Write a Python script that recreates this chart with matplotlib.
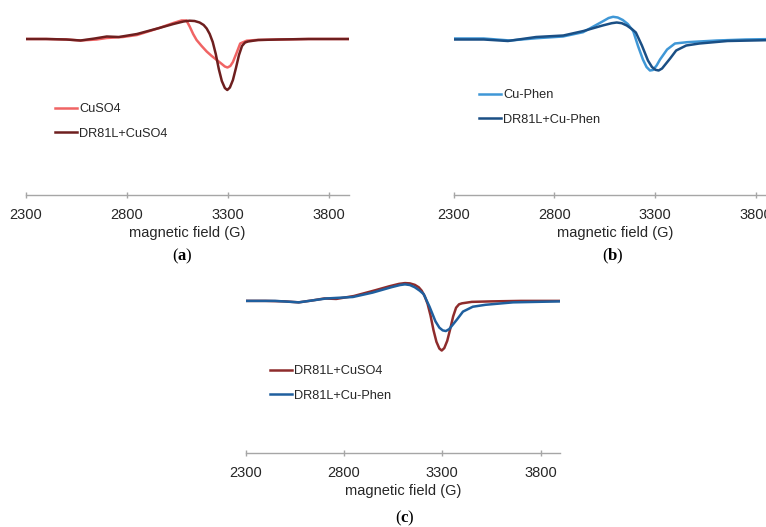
import numpy as np
import matplotlib
matplotlib.use('Agg')
import matplotlib.pyplot as plt

plt.rcParams['font.family'] = ['Liberation Sans', 'DejaVu Sans']
plt.rcParams['mathtext.fontset'] = 'custom'
plt.rcParams['mathtext.bf'] = 'Liberation Serif:bold'
plt.rcParams['mathtext.rm'] = 'Liberation Serif'

# EPR spectra (field in G, intensity in arbitrary units)
field_cuso4 = [2300, 2400, 2500, 2570, 2650, 2700, 2780, 2850, 2960, 3030, 3070, 3095,
               3112, 3128, 3145, 3170, 3195, 3220, 3245, 3270, 3285, 3298, 3312, 3325,
               3343, 3361, 3393, 3440, 3550, 3700, 3900]
int_cuso4 = [0, 0, -0.5, -1.5, -0.5, 1, 2, 4, 11, 16, 18.5, 18.5,
             12, 5, -1, -7, -12.5, -17, -21, -25, -27.5, -28.5, -27, -23,
             -14, -4.5, -1.7, -1, -0.5, 0, 0]

field_dr_cuso4 = [2300, 2400, 2500, 2570, 2640, 2700, 2760, 2850, 2960, 3030, 3080, 3110,
                  3135, 3160, 3180, 3195, 3210, 3225, 3240, 3255, 3270, 3285, 3297, 3310,
                  3325, 3340, 3355, 3370, 3385, 3400, 3450, 3550, 3700, 3900]
int_dr_cuso4 = [0, 0, -0.5, -1.5, 0.5, 2.5, 2, 5, 11, 15, 17.5, 18.3,
                18, 16.5, 14, 10.5, 5, -3, -15, -30, -42, -49, -51, -48.5,
                -41, -29, -16, -7, -3.5, -2.5, -1, -0.5, 0, 0]

field_phen = [2300, 2450, 2580, 2714, 2843, 2943, 3042, 3070, 3092, 3115, 3140, 3165,
              3192, 3216, 3240, 3258, 3275, 3290, 3308, 3325, 3360, 3399, 3459, 3607,
              3750, 3900]
int_phen = [0, 0, -2, 0.3, 2, 6.3, 17.3, 20.5, 21.7, 21, 18.5, 14.5,
            7.3, -7.7, -21, -28.5, -32, -31.5, -27, -21, -11, -5, -3.7, -2,
            -1, -0.5]

field_dr_phen = [2300, 2450, 2570, 2710, 2845, 2945, 3040, 3085, 3110, 3135, 3160, 3185,
                 3205, 3235, 3265, 3285, 3302, 3318, 3335, 3355, 3375, 3405, 3455, 3520,
                 3660, 3900]
int_dr_phen = [0, 0, -1.5, 2.5, 4, 8.5, 14, 16.3, 17, 16.3, 14, 10.5,
               7, -6, -21, -27.5, -30.3, -31, -29, -24, -19, -11, -6, -4,
               -1.5, -0.5]

xticks = [2300, 2800, 3300, 3800]

W, H = 766, 527
fig = plt.figure(figsize=(W / 100, H / 100), dpi=100)


def make_axes(left, right, axis_y, height):
    ax = fig.add_axes([left / W, 1 - axis_y / H, (right - left) / W, height / H])
    ax.set_xlim(2300, 3900)
    ax.set_ylim(-156, 30)
    for s in ['top', 'right', 'left']:
        ax.spines[s].set_visible(False)
    ax.spines['bottom'].set_color('#a6a6a6')
    ax.spines['bottom'].set_linewidth(1)
    ax.set_yticks([])
    ax.set_xticks(xticks)
    ax.tick_params(axis='x', direction='inout', length=5, width=1, color='#a6a6a6',
                   labelsize=10.5, labelcolor='#262626', pad=7)
    ax.set_xlabel('magnetic field (G)', fontsize=10.5, color='#262626', labelpad=3)
    return ax


def legend(ax, x, y):
    ax.legend(loc='upper left', bbox_to_anchor=(x / W, 1 - y / H),
              bbox_transform=fig.transFigure, frameon=False, fontsize=9.2,
              handlelength=1.75, handletextpad=0.15, labelspacing=1.0,
              borderpad=0, borderaxespad=0, labelcolor='#262626')


# (a)
ax1 = make_axes(26, 349, 195, 186)
ax1.plot(field_cuso4, int_cuso4, color='#f06464', lw=1.8, label='CuSO4')
ax1.plot(field_dr_cuso4, int_dr_cuso4, color='#6e1f1f', lw=1.8, label='DR81L+CuSO4')
legend(ax1, 55, 103)

# (b)
ax2 = make_axes(453.5, 775.9, 194.5, 186)
ax2.plot(field_phen, int_phen, color='#3f97d6', lw=1.8, label='Cu-Phen')
ax2.plot(field_dr_phen, np.array(int_dr_phen) - 1, color='#1a4f85', lw=1.8, label='DR81L+Cu-Phen')
legend(ax2, 479, 89)

# (c)
ax3 = make_axes(245.7, 560.3, 452.7, 181)
ax3.plot(field_dr_cuso4, int_dr_cuso4, color='#8e2c2c', lw=1.8, label='DR81L+CuSO4')
ax3.plot(field_dr_phen, int_dr_phen, color='#1f5f9e', lw=1.8, label='DR81L+Cu-Phen')
legend(ax3, 270, 365)

for lab, x, y in [('a', 182, 256), ('b', 613, 256), ('c', 405, 518)]:
    fig.text(x / W, 1 - y / H, '(' + r'$\mathbf{' + lab + '}$' + ')', ha='center', va='center',
             fontsize=12, family='Liberation Serif', color='black')

fig.savefig('out.png', dpi=100)
